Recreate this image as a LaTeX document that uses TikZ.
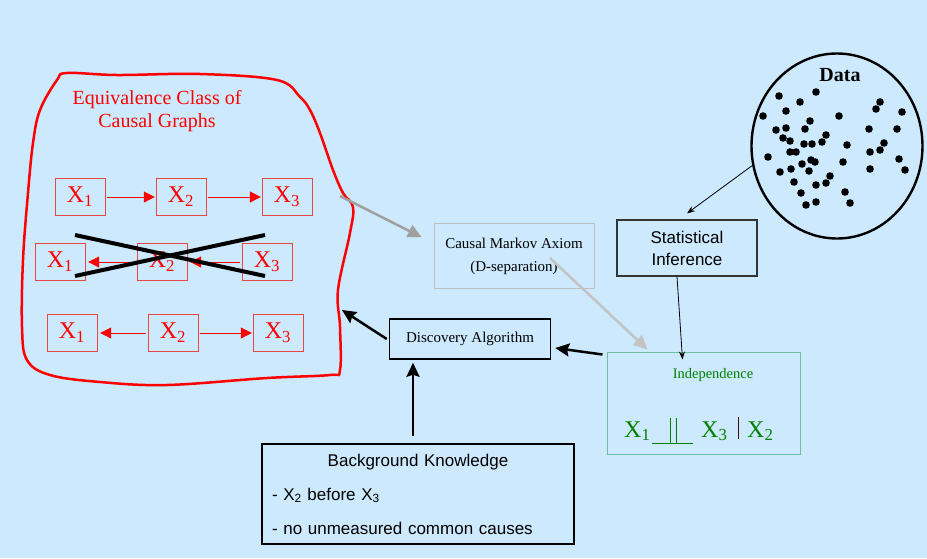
\documentclass[tikz,border=0pt]{standalone}
\usepackage{fontspec}
\setmainfont{Liberation Serif}
\newfontfamily\arialfont{Liberation Sans}
\usetikzlibrary{arrows.meta,shapes.geometric}

\definecolor{slideblue}{RGB}{204,233,253}
\definecolor{boxred}{RGB}{235,70,70}
\definecolor{axiomgray}{RGB}{190,190,190}
\definecolor{arrowgray}{RGB}{160,160,160}
\definecolor{softgray}{RGB}{195,195,195}
\definecolor{indepgreen}{RGB}{0,128,0}
\definecolor{indepframe}{RGB}{110,190,160}
\definecolor{barbrown}{RGB}{70,10,10}

\tikzset{
  varbox/.style={draw=boxred, text=red, minimum width=50pt, minimum height=37pt,
    inner sep=0pt, font=\fontsize{24}{24}\selectfont},
  redarrow/.style={red, line width=1pt, -{Triangle[length=11pt,width=11pt]},
    shorten <=2pt, shorten >=1pt},
  grayarrow/.style={line width=2.5pt, -{Triangle[length=14pt,width=13pt]}},
  boldarrow/.style={line width=2.5pt, -{Stealth[length=14pt,width=13pt,inset=2pt]}},
  thinarrow/.style={line width=0.8pt, -{Stealth[length=8pt,width=6pt]}},
  formula/.style={text=indepgreen, inner sep=0pt, anchor=base west,
    font=\fontsize{24}{24}\selectfont},
}

\begin{document}
\begin{tikzpicture}[x=1pt,y=-1pt]
  \fill[slideblue] (0,0) rectangle (927,558);
  \useasboundingbox (0,0) rectangle (927,558);

  % Equivalence class
  \draw[red, line width=2.5pt] plot[smooth cycle, tension=0.6] coordinates {
    (67,73) (117,75) (200,74) (277,80) (300,97) (310,110) (320,133) (333,170)
    (343,193) (353,207) (350,233) (338,290) (340,327) (340,370) (330,375)
    (267,378) (167,385) (100,382) (50,375) (27,360) (22,327) (23,260)
    (28,193) (33,143) (40,110) (57,80)};
  \node[text=red, align=center, font=\fontsize{20}{23}\selectfont] (classtitle)
    at (157,111) {Equivalence Class of\\Causal Graphs};

  % Chain X1 -> X2 -> X3
  \node[varbox] (a1) at (80,197) {X\textsubscript{1}};
  \node[varbox] (a2) at (181,197) {X\textsubscript{2}};
  \node[varbox] (a3) at (287,197) {X\textsubscript{3}};
  \draw[redarrow] (a1) -- (a2);
  \draw[redarrow] (a2) -- (a3);

  % Chain X3 -> X2 -> X1 (ruled out)
  \node[varbox] (b1) at (60,262) {X\textsubscript{1}};
  \node[varbox] (b2) at (162,262) {X\textsubscript{2}};
  \node[varbox] (b3) at (267,262) {X\textsubscript{3}};
  \draw[redarrow, shorten >=3pt] (b2) -- (b1);
  \draw[redarrow, shorten >=3pt] (b3) -- (b2);
  \draw[line width=4pt] (75,235) -- (265,276);
  \draw[line width=4pt] (75,276) -- (265,235);

  % Common cause X1 <- X2 -> X3
  \node[varbox] (c1) at (72,333) {X\textsubscript{1}};
  \node[varbox] (c2) at (173,333) {X\textsubscript{2}};
  \node[varbox] (c3) at (278,333) {X\textsubscript{3}};
  \draw[redarrow, shorten >=3pt] (c2) -- (c1);
  \draw[redarrow] (c2) -- (c3);

  % Causal Markov Axiom
  \node[draw=axiomgray, minimum width=160pt, minimum height=65pt, align=center,
    font=\fontsize{15}{23}\selectfont] (cma) at (514,256)
    {Causal Markov Axiom\\(D-separation)};

  % Discovery Algorithm
  \node[draw, line width=1.5pt, minimum width=161pt, minimum height=40pt,
    font=\fontsize{15}{18}\selectfont] (disc) at (470,339) {Discovery Algorithm};

  % Statistical Inference
  \node[draw=black!80, line width=1.2pt, minimum width=140pt, minimum height=56pt,
    align=center, font=\arialfont\fontsize{17}{22}\selectfont] (stat) at (687,248)
    {Statistical\\Inference};

  % Independence
  \node[draw=indepframe, line width=1pt, minimum width=193pt, minimum height=102pt]
    (indep) at (703.5,403) {};
  \node[text=indepgreen, font=\fontsize{14.5}{16}\selectfont] (indeplabel)
    at (713,375) {Independence};
  \node[formula] (fx1) at (624,437) {X\textsubscript{1}};
  \node[formula] (fx3) at (701,437) {X\textsubscript{3}};
  \node[formula] (fx2) at (747,437) {X\textsubscript{2}};
  \draw[indepgreen, line width=0.8pt] (652,443) -- (693,443)
    (670,418) -- (670,443) (676,418) -- (676,443);
  \draw[barbrown, line width=1pt] (738,417) -- (738,439);

  % Data
  \node[draw, ellipse, line width=2.4pt, minimum width=171pt, minimum height=185pt,
    inner sep=0pt] (data) at (837,146) {};
  \node[font=\fontsize{20}{20}\selectfont\bfseries] (datalabel) at (840,75) {Data};
  \foreach \dx/\dy in {779/96, 816/92, 800/102, 786/111, 763/116, 839/116,
      880/102, 876/109, 902/112, 810/121, 776/130, 786/128, 805/129, 826/135,
      783/138, 790/141, 804/144, 812/144, 822/142, 869/129, 897/129, 847/145,
      790/152, 796/152, 884/143, 880/150, 870/152, 768/157, 811/160, 815/162,
      843/162, 802/164, 899/159, 791/169, 780/172, 809/171, 870/169, 905/170,
      830/176, 794/182, 826/183, 816/185, 801/193, 845/192, 816/202, 806/205,
      850/203}
    \fill (\dx,\dy) circle (3.8pt);

  % Background Knowledge
  \node[draw, line width=1.2pt, minimum width=312pt, minimum height=100pt,
    text width=292pt, align=left, font=\arialfont\fontsize{17}{34}\selectfont]
    (bk) at (418,494)
    {\makebox[\linewidth]{Background Knowledge}\\
     - X\textsubscript{2} before X\textsubscript{3}\\
     - no unmeasured common causes};

  % Connectors
  \coordinate (classedge) at (340,196);
  \coordinate (classside) at (342,310);
  \draw[grayarrow, arrowgray] (classedge) -- ([xshift=-12pt,yshift=-14pt]cma.north west);
  \draw[grayarrow, softgray] ([xshift=36pt,yshift=-2pt]cma.center)
    -- ([xshift=-56pt,yshift=2pt]indep.north);
  \draw[thinarrow] (data.193) -- ([yshift=6pt]stat.north);
  \draw[thinarrow] ([xshift=-10pt]stat.south) -- ([xshift=-21pt,yshift=-8pt]indep.north);
  \draw[boldarrow] ([xshift=-4pt,yshift=-3pt]indep.north west)
    -- ([xshift=4pt,yshift=-9pt]disc.east);
  \draw[boldarrow] ([xshift=-2pt]disc.west) -- (classside);
  \draw[boldarrow] ([xshift=-5pt,yshift=7pt]bk.north)
    -- ([xshift=-5pt,yshift=-3pt]bk.north |- disc.south);
\end{tikzpicture}
\end{document}
